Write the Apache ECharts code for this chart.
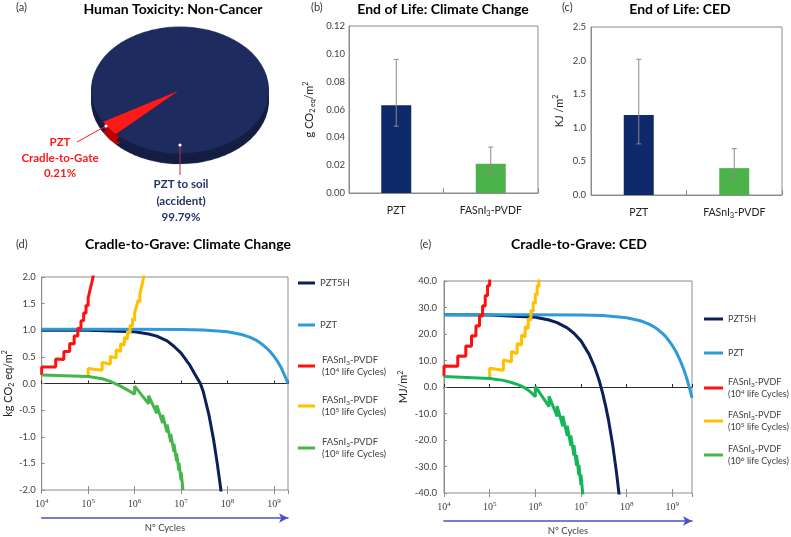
<!DOCTYPE html>
<html><head><meta charset="utf-8">
<script src="https://cdn.jsdelivr.net/npm/echarts@6/dist/echarts.min.js"></script>
<style>
html,body{margin:0;padding:0;background:#fff;width:791px;height:537px;overflow:hidden;}
#pie{position:absolute;left:80px;top:-10.5px;width:200px;height:230px;transform-origin:100px 100px;transform:scaleY(0.713);}
#main{position:absolute;left:0;top:0;width:791px;height:537px;}
</style></head><body>
<div id="pie"></div><div id="main"></div>
<script>
// ---------- data ----------
const pieNames = ['PZT\nCradle-to-Gate', 'PZT to soil\n(accident)'];
const pieValues = [0.21, 99.79];

const barCategories = ['PZT', 'FASnI3-PVDF'];
const eolClimate = [0.063, 0.021];
const eolClimateLow = [0.048, 0.014];
const eolClimateHigh = [0.096, 0.033];
const eolCED = [1.19, 0.40];
const eolCEDLow = [0.76, 0.26];
const eolCEDHigh = [2.02, 0.69];

const seriesNames = ['PZT5H', 'PZT', 'FAS 1e4', 'FAS 1e5', 'FAS 1e6'];
const logTickExps = [4, 5, 6, 7, 8, 9];

const ccPZT5H = [[1e4,1.0],[1e5,1.0],[1e6,0.97],[2e6,0.93],[3e6,0.89],[5e6,0.80],[7e6,0.70],[1e7,0.57],[1.5e7,0.36],[2e7,0.17],[2.6e7,0.0],[3e7,-0.15],[4e7,-0.6],[5e7,-1.05],[6e7,-1.5],[6.5e7,-1.72],[7e7,-1.92],[7.4e7,-2.1]];
const ccPZT = [[1e4,1.02],[1e6,1.02],[1e7,1.015],[3e7,1.005],[1e8,0.97],[2e8,0.92],[3e8,0.87],[4e8,0.82],[5e8,0.765],[6e8,0.71],[7e8,0.66],[8e8,0.61],[1e9,0.51],[1.2e9,0.41],[1.4e9,0.31],[1.6e9,0.2],[1.8e9,0.1],[2e9,0.0]];
const ccFAS4 = [[1e4,0.16],[1e4,0.31],[2e4,0.31],[2e4,0.46],[3e4,0.45],[3e4,0.60],[4e4,0.60],[4e4,0.75],[5e4,0.74],[5e4,0.89],[6e4,0.89],[6e4,1.04],[7e4,1.03],[7e4,1.18],[8e4,1.18],[8e4,1.33],[9e4,1.32],[9e4,1.47],[1e5,1.46],[1e5,1.61],[1.1e5,1.61],[1.1e5,1.76],[1.2e5,1.75],[1.2e5,1.90],[1.3e5,1.89],[1.3e5,2.04]];
const ccFAS5 = [[1e5,0.13],[1e5,0.28],[2e5,0.25],[2e5,0.40],[3e5,0.36],[3e5,0.51],[4e5,0.48],[4e5,0.63],[5e5,0.60],[5e5,0.75],[6e5,0.72],[6e5,0.87],[7e5,0.83],[7e5,0.98],[8e5,0.95],[8e5,1.10],[9e5,1.07],[9e5,1.22],[1e6,1.18],[1e6,1.33],[1.1e6,1.30],[1.1e6,1.45],[1.2e6,1.42],[1.2e6,1.57],[1.3e6,1.53],[1.3e6,1.68],[1.4e6,1.65],[1.4e6,1.80],[1.5e6,1.77],[1.5e6,1.92],[1.6e6,1.89],[1.6e6,2.04]];
const ccFAS6 = [[1e4,0.16],[1e5,0.13],[2e5,0.09],[3e5,0.04],[4e5,-0.01],[5e5,-0.05],[6e5,-0.09],[7e5,-0.12],[8e5,-0.15],[9e5,-0.18],[1e6,-0.2],[1e6,-0.05],[2e6,-0.38],[2e6,-0.23],[3e6,-0.56],[3e6,-0.41],[4e6,-0.74],[4e6,-0.59],[5e6,-0.92],[5e6,-0.77],[6e6,-1.10],[6e6,-0.95],[7e6,-1.28],[7e6,-1.13],[8e6,-1.46],[8e6,-1.31],[9e6,-1.64],[9e6,-1.49],[1e7,-1.82],[1e7,-1.67],[1.1e7,-2.0]];

const cedPZT5H = [[1e4,27.3],[1e5,27.2],[1e6,26.3],[2e6,25.3],[3e6,24.3],[5e6,22.3],[7e6,20.3],[1e7,17.4],[1.5e7,12.4],[2e7,7.4],[2.5e7,2.5],[3e7,-2.5],[3.5e7,-7.5],[4e7,-12.4],[5e7,-22.4],[6e7,-32.3],[7e7,-42.2]];
const cedPZT = [[1e4,27.3],[1e6,27.3],[1e7,27.2],[3e7,27.0],[1e8,26.1],[2e8,25.0],[3e8,23.8],[4e8,22.7],[5e8,21.5],[6e8,20.3],[7e8,19.2],[8e8,18.0],[1e9,15.7],[1.2e9,13.4],[1.4e9,11.0],[1.6e9,8.7],[1.8e9,6.4],[2e9,4.1],[2.2e9,1.7],[2.4e9,-0.6],[2.7e9,-4.1]];
const cedFAS4 = [[1e4,4.0],[1e4,7.9],[2e4,7.8],[2e4,11.7],[3e4,11.6],[3e4,15.5],[4e4,15.4],[4e4,19.3],[5e4,19.2],[5e4,23.1],[6e4,23.0],[6e4,26.9],[7e4,26.8],[7e4,30.7],[8e4,30.6],[8e4,34.5],[9e4,34.4],[9e4,38.3],[1e5,38.2],[1e5,42.1]];
const cedFAS5 = [[1e5,3.2],[1e5,7.1],[2e5,6.3],[2e5,10.2],[3e5,9.5],[3e5,13.4],[4e5,12.6],[4e5,16.5],[5e5,15.8],[5e5,19.7],[6e5,18.9],[6e5,22.8],[7e5,22.0],[7e5,25.9],[8e5,25.2],[8e5,29.1],[9e5,28.3],[9e5,32.2],[1e6,31.5],[1e6,35.4],[1.1e6,34.6],[1.1e6,38.5],[1.2e6,37.7],[1.2e6,41.6]];
const cedFAS6 = [[1e4,4.0],[1e5,3.2],[2e5,2.5],[3e5,1.7],[4e5,1.0],[5e5,0.3],[6e5,-0.4],[7e5,-1.2],[8e5,-2.0],[9e5,-2.8],[1e6,-3.7],[1e6,0.2],[2e6,-7.4],[2e6,-3.5],[3e6,-11.1],[3e6,-7.2],[4e6,-14.8],[4e6,-10.9],[5e6,-18.5],[5e6,-14.6],[6e6,-22.2],[6e6,-18.3],[7e6,-25.9],[7e6,-22.0],[8e6,-29.6],[8e6,-25.7],[9e6,-33.3],[9e6,-29.4],[1e7,-37.0],[1e7,-33.1],[1.1e7,-40.7]];

// ---------- styles ----------
const FONT = 'Lato';
const AX = '#8c8c8c';
const TXT = '#404040';
const lineColorsCC = ['#0c1f5a', '#2f9bd6', '#ff1010', '#ffc000', '#45b649'];
const lineColorsCED = ['#0c1f5a', '#2f9bd6', '#ff1010', '#ffc000', '#16b55a'];
const barColors = ['#0e2a6b', '#4cb24a'];

const legendTexts = ['PZT5H', 'PZT',
  'FASnI{sub|3}-PVDF\n({n|10}{sup|4} life Cycles)',
  'FASnI{sub|3}-PVDF\n({n|10}{sup|5} life Cycles)',
  'FASnI{sub|3}-PVDF\n({n|10}{sup|6} life Cycles)'];

function richSmall(fs) {
  return {
    sub: {fontFamily: FONT, fontSize: 6.5, lineHeight: 6, verticalAlign: 'bottom', color: TXT},
    sup: {fontFamily: FONT, fontSize: 6.5, lineHeight: 6, verticalAlign: 'top', color: TXT},
    n: {fontFamily: FONT, fontSize: fs, lineHeight: 12, color: TXT}
  };
}

// ---------- pie (3D-looking via CSS squash) ----------
const pieChart = echarts.init(document.getElementById('pie'));
const pieTop = ['#ff1a1a', '#1e2b5e'];
const pieSide = ['#b80000', '#141d42'];
function pieLayer(cy, colors) {
  return {type: 'pie', center: [100, cy], radius: 89, startAngle: 224, minAngle: 14, silent: true,
    clockwise: true, label: {show: false}, labelLine: {show: false}, animation: false,
    data: pieNames.map((n, i) => ({name: n, value: pieValues[i], itemStyle: {color: colors[i]}}))};
}
pieChart.setOption({animation: false, series: [pieLayer(115, pieSide), pieLayer(108, pieSide), pieLayer(100, pieTop)]});

// ---------- main chart ----------
const chart = echarts.init(document.getElementById('main'));

function logLabel(v) {
  const l = Math.log10(v), e = Math.round(l);
  if (Math.abs(l - e) > 1e-6 || logTickExps.indexOf(e) < 0) return '';
  return '{b|10}{s|' + e + '}';
}
const logRich = {
  b: {fontFamily: 'Liberation Serif', fontSize: 10, color: TXT, lineHeight: 13},
  s: {fontFamily: 'Liberation Serif', fontSize: 7, color: TXT, lineHeight: 8, verticalAlign: 'top'}
};

function logAxes(gi, xmax) {
  return [
    {gridIndex: gi, type: 'log', logBase: 10, min: 1e4, max: xmax, position: 'bottom',
      axisLine: {show: false, onZero: false}, splitLine: {show: false},
      axisTick: {show: true, inside: true, length: 4, lineStyle: {color: AX}},
      axisLabel: {formatter: logLabel, rich: logRich, margin: 8, showMaxLabel: false}},
    {gridIndex: gi, type: 'log', logBase: 10, min: 1e4, max: xmax, position: 'bottom',
      axisLine: {show: false, onZero: false}, splitLine: {show: false},
      axisTick: {show: true, inside: false, length: 4, lineStyle: {color: AX}},
      axisLabel: {show: false}},
    {gridIndex: gi, type: 'log', logBase: 10, min: 1e4, max: xmax, position: 'bottom',
      axisLine: {show: true, onZero: true, lineStyle: {color: '#2a2a2a', width: 1}}, splitLine: {show: false},
      axisTick: {show: true, inside: true, length: 3, lineStyle: {color: '#2a2a2a'}},
      axisLabel: {show: false}},
    {gridIndex: gi, type: 'value', min: 0, max: 1, position: 'bottom', offset: 28,
      axisLine: {show: true, onZero: false, lineStyle: {color: '#4a50c8', width: 1.6}, symbol: ['none', 'arrow'], symbolSize: [7, 9]},
      axisTick: {show: false}, axisLabel: {show: false}, splitLine: {show: false},
      name: 'Nº Cycles', nameLocation: 'middle', nameGap: 5,
      nameTextStyle: {fontFamily: FONT, fontSize: 9.5, color: TXT, verticalAlign: 'top'}}
  ];
}

function catAxis(gi) {
  return {gridIndex: gi, type: 'category', data: barCategories, position: 'bottom',
    axisLine: {show: true, onZero: false, lineStyle: {color: AX}},
    axisTick: {show: true, inside: true, length: 5, lineStyle: {color: AX}},
    axisLabel: {interval: 0, hideOverlap: false, margin: 10, fontFamily: FONT, fontSize: 10.5, color: '#222', lineHeight: 15,
      formatter: c => c.replace('I3', 'I{sub|3}'),
      rich: {sub: {fontFamily: FONT, fontSize: 7.5, lineHeight: 6, verticalAlign: 'bottom', color: '#222'}}}};
}

function valAxis(gi, min, max, interval, dec, name, gap, margin) {
  return {gridIndex: gi, type: 'value', min, max, interval,
    axisLine: {show: true, onZero: false, lineStyle: {color: AX}},
    axisTick: {show: gi >= 2, inside: true, length: 3, lineStyle: {color: AX}},
    splitLine: {show: false},
    axisLabel: {formatter: v => v.toFixed(dec), fontFamily: FONT, fontSize: 9.5, color: TXT, margin},
    name, nameLocation: 'middle', nameGap: gap,
    nameTextStyle: {fontFamily: FONT, fontSize: 11, color: '#222', lineHeight: 14,
      rich: {sub: {fontFamily: FONT, fontSize: 7, lineHeight: 6, verticalAlign: 'bottom', color: '#222'},
             sup: {fontFamily: FONT, fontSize: 7, lineHeight: 6, verticalAlign: 'top', color: '#222'}}}};
}

function errorSeries(xi, yi, lows, highs) {
  return {type: 'custom', xAxisIndex: xi, yAxisIndex: yi, silent: true, z: 5,
    data: lows.map((l, i) => [i, l, highs[i]]),
    renderItem: (params, api) => {
      const lo = api.coord([api.value(0), api.value(1)]);
      const hi = api.coord([api.value(0), api.value(2)]);
      const st = {stroke: '#8a8a8a', lineWidth: 1};
      return {type: 'group', children: [
        {type: 'line', shape: {x1: lo[0], y1: lo[1], x2: hi[0], y2: hi[1]}, style: st},
        {type: 'line', shape: {x1: lo[0] - 2.5, y1: lo[1], x2: lo[0] + 2.5, y2: lo[1]}, style: st},
        {type: 'line', shape: {x1: hi[0] - 2.5, y1: hi[1], x2: hi[0] + 2.5, y2: hi[1]}, style: st}
      ]};
    }};
}

function barSeries(xi, yi, vals) {
  return {type: 'bar', xAxisIndex: xi, yAxisIndex: yi, barWidth: 30, silent: true,
    data: vals.map((v, i) => ({value: v, itemStyle: {color: barColors[i]}}))};
}

function lineSeries(name, data, color, xi, yi) {
  return {type: 'line', name, data, xAxisIndex: xi, yAxisIndex: yi, showSymbol: false, symbol: 'none',
    color, lineStyle: {width: 3, color}, itemStyle: {color}, clip: true, silent: true, z: 3};
}

function legendItem(i, left, top, iconW, pad, fs) {
  return {show: true, data: [seriesNames[i]], left, top, orient: 'vertical', icon: 'rect',
    itemWidth: iconW, itemHeight: 3, itemGap: 0, padding: 0, selectedMode: false, width: 120,
    formatter: () => legendTexts[i],
    textStyle: {fontFamily: FONT, fontSize: fs, color: TXT, lineHeight: 12, padding: [0, 0, 0, pad], rich: richSmall(fs),
      overflow: 'none'}};
}

const ccSets = [ccPZT5H, ccPZT, ccFAS4, ccFAS5, ccFAS6];
const cedSets = [cedPZT5H, cedPZT, cedFAS4, cedFAS5, cedFAS6];

const titleFont = 'bold 14px Lato';
function txt(x, y, text, font, fill, align) {
  return {type: 'text', x, y, silent: true,
    style: {text, font, fill, textAlign: align || 'center', align: align || 'center', textVerticalAlign: 'middle', verticalAlign: 'middle'}};
}

const option = {
  animation: false,
  textStyle: {fontFamily: FONT},
  grid: [
    {left: 349, top: 26, width: 189, height: 167, show: true, borderColor: AX, borderWidth: 1, backgroundColor: 'transparent'},
    {left: 591, top: 27, width: 191, height: 168, show: true, borderColor: AX, borderWidth: 1, backgroundColor: 'transparent'},
    {left: 39, top: 277, width: 249, height: 213, show: true, borderColor: AX, borderWidth: 1, backgroundColor: 'transparent'},
    {left: 444, top: 281, width: 248, height: 213, show: true, borderColor: AX, borderWidth: 1, backgroundColor: 'transparent'}
  ],
  xAxis: [catAxis(0), catAxis(1)].concat(logAxes(2, 2e9), logAxes(3, 2.7e9)),
  yAxis: [
    valAxis(0, 0, 0.12, 0.02, 2, 'g CO{sub|2 eq}/m{sup|2}', 33, 4),
    valAxis(1, 0, 2.5, 0.5, 1, 'KJ /m{sup|2}', 25, 5),
    valAxis(2, -2, 2, 0.5, 1, 'kg CO{sub|2} eq/m{sup|2}', 23, 6),
    valAxis(3, -40, 40, 10, 1, 'MJ/m{sup|2}', 33, 7)
  ],
  legend: [
    legendItem(0, 298, 277, 17, 0, 9.5), legendItem(1, 298, 319, 17, 0, 9.5), legendItem(2, 298, 354, 17, 2, 9.5),
    legendItem(3, 298, 394, 17, 2, 9.5), legendItem(4, 298, 436, 17, 2, 9.5),
    legendItem(0, 704, 313, 19, 0, 9), legendItem(1, 704, 347, 19, 0, 9), legendItem(2, 704, 376, 19, 0, 9),
    legendItem(3, 704, 409, 19, 0, 9), legendItem(4, 704, 443, 19, 0, 9)
  ],
  series: [
    barSeries(0, 0, eolClimate), errorSeries(0, 0, eolClimateLow, eolClimateHigh),
    barSeries(1, 1, eolCED), errorSeries(1, 1, eolCEDLow, eolCEDHigh)
  ].concat(
    ccSets.map((d, i) => lineSeries(seriesNames[i], d, lineColorsCC[i], 2, 2)),
    cedSets.map((d, i) => lineSeries(seriesNames[i], d, lineColorsCED[i], 6, 3))
  ),
  graphic: [
    txt(16, 7, '(a)', '11px Lato', '#333', 'left'),
    txt(173, 9, 'Human Toxicity: Non-Cancer', titleFont, '#000'),
    txt(311, 7, '(b)', '11px Lato', '#333', 'left'),
    txt(443, 9, 'End of Life: Climate Change', titleFont, '#000'),
    txt(562, 7, '(c)', '11px Lato', '#333', 'left'),
    txt(680, 9, 'End of Life: CED', titleFont, '#000'),
    txt(16, 244, '(d)', '11px Lato', '#333', 'left'),
    txt(188, 244, 'Cradle-to-Grave: Climate Change', titleFont, '#000'),
    txt(420, 244, '(e)', '11px Lato', '#333', 'left'),
    txt(579, 244, 'Cradle-to-Grave: CED', titleFont, '#000'),
    {type: 'line', silent: true, shape: {x1: 77, y1: 142, x2: 106, y2: 126}, style: {stroke: '#ff1a1a', lineWidth: 1}},
    {type: 'circle', silent: true, shape: {cx: 106, cy: 126, r: 1.6}, style: {fill: '#fff'}},
    {type: 'line', silent: true, shape: {x1: 180, y1: 145, x2: 180, y2: 175}, style: {stroke: '#b03048', lineWidth: 1}},
    {type: 'circle', silent: true, shape: {cx: 180, cy: 145, r: 1.6}, style: {fill: '#fff'}},
    {type: 'text', x: 60, y: 135, silent: true,
      style: {text: pieNames[0] + '\n' + pieValues[0].toFixed(2) + '%', font: 'bold 11.5px Lato', fill: '#ff1a1a',
        textAlign: 'center', align: 'center', textVerticalAlign: 'top', verticalAlign: 'top', lineHeight: 15.3}},
    {type: 'text', x: 181, y: 176.5, silent: true,
      style: {text: pieNames[1] + '\n' + pieValues[1].toFixed(2) + '%', font: 'bold 11.5px Lato', fill: '#243266',
        textAlign: 'center', align: 'center', textVerticalAlign: 'top', verticalAlign: 'top', lineHeight: 16.5}}
  ]
};
chart.setOption(option);
</script></body></html>
